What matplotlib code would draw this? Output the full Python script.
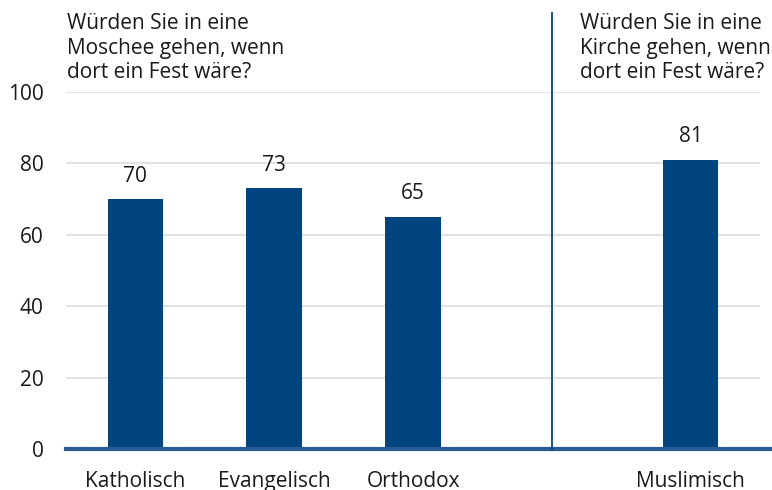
import matplotlib
matplotlib.use("Agg")
import matplotlib.pyplot as plt

categories = ["Katholisch", "Evangelisch", "Orthodox", "Muslimisch"]
values = [70, 73, 65, 81]
positions = [0, 1, 2, 4]
yticks = [0, 20, 40, 60, 80, 100]
title_left = "Würden Sie in eine\nMoschee gehen, wenn\ndort ein Fest wäre?"
title_right = "Würden Sie in eine\nKirche gehen, wenn\ndort ein Fest wäre?"

plt.rcParams['font.family'] = ['Open Sans', 'DejaVu Sans']
bar_color = "#00457f"
text_color = "#1a1a1a"
fs = 15

fig = plt.figure(figsize=(7.72, 4.9), dpi=100)
ax = fig.add_axes([66/772, (490-449)/490, (760-66)/772, (449-92)/490])

ax.bar(positions, values, width=0.4, color=bar_color, zorder=3)
for p, v in zip(positions, values):
    ax.text(p, v + 3.5, str(v), ha='center', va='bottom', fontsize=fs, color=text_color)

ax.set_xlim(-0.5, 4.5)
ax.set_ylim(0, 100)
ax.set_yticks(yticks)
ax.set_yticklabels([str(t) for t in yticks], fontsize=fs, color=text_color)
ax.set_xticks(positions)
ax.set_xticklabels(categories, fontsize=fs, color=text_color)
ax.tick_params(axis='both', length=0)
ax.tick_params(axis='y', pad=16)
ax.tick_params(axis='x', pad=16)
ax.grid(axis='y', color='#dddddd', linewidth=1.2, zorder=0)
for s in ax.spines.values():
    s.set_visible(False)

# baseline
ax.plot([-0.5, 4.58], [0, 0], color='#2a5b93', linewidth=3, clip_on=False, zorder=4)
# separator
ax.plot([3, 3], [0, 122], color=bar_color, linewidth=1.3, clip_on=False, zorder=4)

ax.text(-0.49, 102.5, title_left, ha='left', va='bottom', fontsize=fs, color=text_color,
        linespacing=1.22)
ax.text(3.2, 102.5, title_right, ha='left', va='bottom', fontsize=fs, color=text_color,
        linespacing=1.22)

fig.savefig("out.png", dpi=100)
